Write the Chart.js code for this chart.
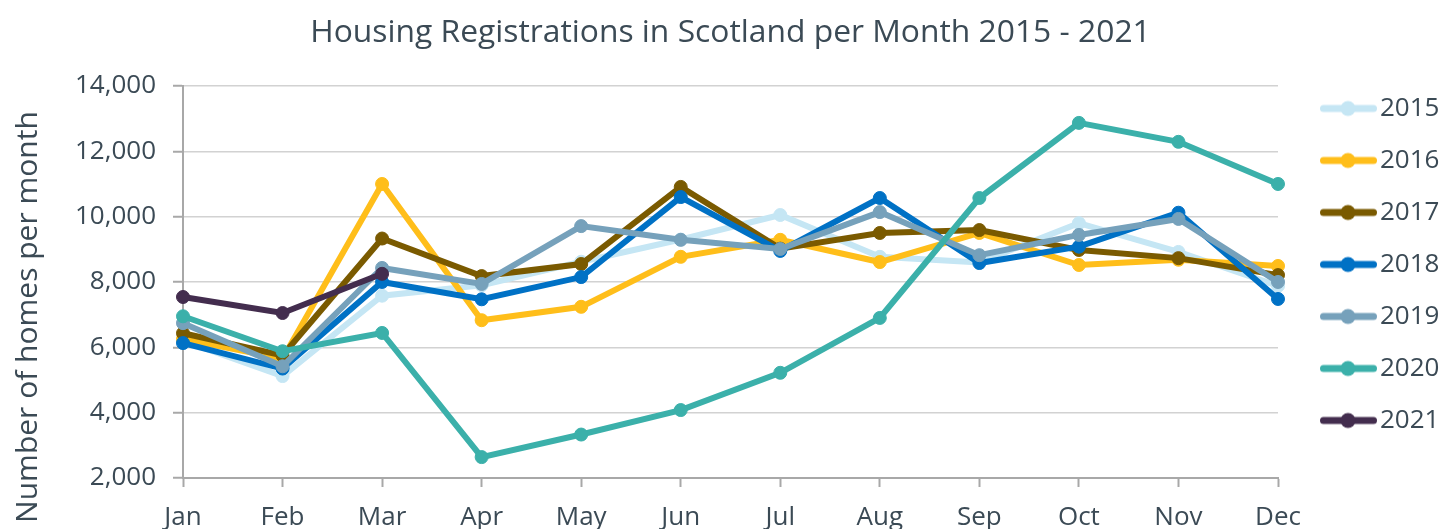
<!DOCTYPE html>
<html>
<head>
<meta charset="utf-8">
<script src="https://cdn.jsdelivr.net/npm/chart.js@4/dist/chart.umd.min.js"></script>
<style>
  html, body { margin: 0; padding: 0; background: #ffffff; }
  #wrap { width: 1443px; height: 529px; }
</style>
</head>
<body>
<div id="wrap"><canvas id="chart" width="1443" height="529"></canvas></div>
<script>
// ---- Data ----
const months = ['Jan', 'Feb', 'Mar', 'Apr', 'May', 'Jun', 'Jul', 'Aug', 'Sep', 'Oct', 'Nov', 'Dec'];
const seriesNames = ['2015', '2016', '2017', '2018', '2019', '2020', '2021'];
const y2015 = [6200, 5120, 7580, 7900, 8620, 9300, 10050, 8770, 8600, 9800, 8920, 7880];
const y2016 = [6250, 5650, 11000, 6830, 7240, 8770, 9290, 8610, 9500, 8520, 8680, 8490];
const y2017 = [6430, 5750, 9330, 8180, 8550, 10910, 9020, 9500, 9590, 8980, 8730, 8210];
const y2018 = [6130, 5350, 8000, 7470, 8150, 10600, 8950, 10570, 8580, 9080, 10120, 7480];
const y2019 = [6740, 5420, 8430, 7940, 9710, 9290, 9010, 10140, 8820, 9440, 9930, 8000];
const y2020 = [6950, 5880, 6440, 2640, 3330, 4080, 5220, 6900, 10570, 12870, 12290, 11000];
const y2021 = [7540, 7050, 8250, null, null, null, null, null, null, null, null, null];
const yTickValues = [2000, 4000, 6000, 8000, 10000, 12000, 14000];
const chartTitle = 'Housing Registrations in Scotland per Month 2015 - 2021';
const yAxisTitle = 'Number of homes per month';

// ---- Styles ----
const colors = ['#c5e6f4', '#ffbe1a', '#7a5a00', '#0071c5', '#76a1bb', '#3bb0aa', '#432d4e'];
const textColor = '#3b4a55';
const fontFamily = "'Open Sans', 'Noto Sans', sans-serif";
const allSeries = [y2015, y2016, y2017, y2018, y2019, y2020, y2021];

function makeSwatch(color) {
  const c = document.createElement('canvas');
  c.width = 83; c.height = 24;
  const g = c.getContext('2d');
  g.strokeStyle = color;
  g.lineWidth = 7;
  g.lineCap = 'round';
  g.beginPath();
  g.moveTo(29.5, 12);
  g.lineTo(79.5, 12);
  g.stroke();
  g.fillStyle = color;
  g.beginPath();
  g.arc(54, 12, 7.5, 0, Math.PI * 2);
  g.fill();
  return c;
}
const swatches = colors.map(makeSwatch);

const datasets = seriesNames.map((name, i) => ({
  label: name,
  data: allSeries[i],
  borderColor: colors[i],
  backgroundColor: colors[i],
  pointBackgroundColor: colors[i],
  pointBorderColor: colors[i],
  borderWidth: 6,
  pointRadius: 6.5,
  pointBorderWidth: 1,
  pointHoverRadius: 6.5,
  tension: 0,
  fill: false,
  spanGaps: false,
  clip: false,
  order: seriesNames.length - 1 - i
}));

new Chart(document.getElementById('chart'), {
  type: 'line',
  data: { labels: months, datasets: datasets },
  options: {
    responsive: false,
    animation: false,
    events: [],
    layout: { padding: 0 },
    plugins: {
      tooltip: { enabled: false },
      title: {
        display: true,
        text: chartTitle,
        fullSize: false,
        color: textColor,
        font: { family: fontFamily, size: 31.8, weight: 'normal' },
        padding: { top: 14, bottom: 33.8 }
      },
      legend: {
        position: 'right',
        align: 'center',
        fullSize: true,
        maxWidth: 165,
        labels: {
          usePointStyle: true,
          pointStyleWidth: 63,
          boxHeight: 26,
          padding: 26,
          color: textColor,
          font: { family: fontFamily, size: 26 },
          sort: (a, b) => a.datasetIndex - b.datasetIndex,
          generateLabels: (chart) => chart.data.datasets.map((ds, i) => ({
            text: ds.label,
            pointStyle: swatches[i],
            fillStyle: ds.borderColor,
            strokeStyle: ds.borderColor,
            lineWidth: 0,
            fontColor: textColor,
            hidden: false,
            datasetIndex: i
          }))
        }
      }
    },
    scales: {
      x: {
        type: 'category',
        offset: false,
        afterFit: (s) => { s.height = 51; },
        border: { display: true, color: '#a8a8a8', width: 2 },
        grid: { drawOnChartArea: false, drawTicks: true, tickLength: 9, tickColor: '#a8a8a8', tickWidth: 2 },
        ticks: {
          color: textColor,
          font: { family: fontFamily, size: 26 },
          padding: 15,
          maxRotation: 0,
          autoSkip: false
        }
      },
      y: {
        min: 2000,
        max: 14000,
        afterFit: (s) => { s.width = 183; },
        afterBuildTicks: (s) => { s.ticks = yTickValues.map(v => ({ value: v })); },
        border: { display: true, color: '#a8a8a8', width: 2 },
        grid: { color: '#d2d2d2', lineWidth: 1.5, drawTicks: true, tickLength: 10, tickColor: '#a8a8a8', tickWidth: 2 },
        ticks: {
          color: textColor,
          font: { family: fontFamily, size: 26 },
          padding: 17,
          callback: (v) => Number(v).toLocaleString('en-US')
        },
        title: {
          display: true,
          text: yAxisTitle + '         ',
          color: textColor,
          font: { family: fontFamily, size: 30 },
          padding: { top: 10, bottom: 0 }
        }
      }
    }
  }
});
</script>
</body>
</html>
